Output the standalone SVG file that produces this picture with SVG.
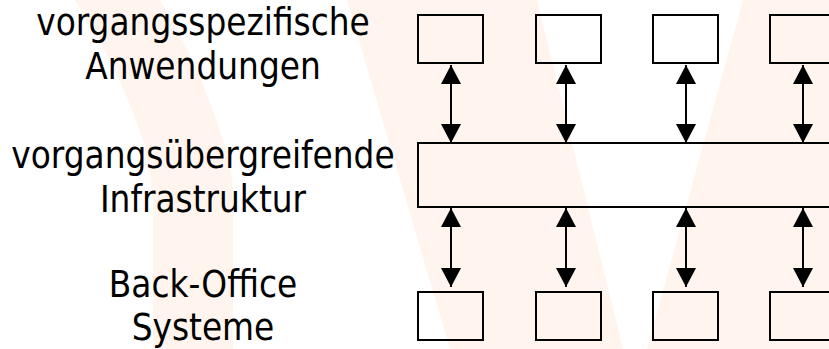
<svg xmlns="http://www.w3.org/2000/svg" width="829" height="349" viewBox="0 0 829 349">
  <defs>
    <style>
      .label { font-family: "DejaVu Sans Condensed", "DejaVu Sans", "Liberation Sans", sans-serif; font-stretch: condensed; font-size: 36.5px; fill: #000; text-anchor: middle; }
      .box { fill: none; stroke: #000; stroke-width: 2; }
      .link { stroke: #000; stroke-width: 2; fill: none; marker-start: url(#head); marker-end: url(#head); }
      .mark { fill: #FFF5EE; }
    </style>
    <marker id="head" viewBox="0 0 19 20" refX="19" refY="10" markerWidth="19" markerHeight="20" markerUnits="userSpaceOnUse" orient="auto-start-reverse">
      <path d="M0,0 L19,10 L0,20 Z" fill="#000"/>
    </marker>
  </defs>

  <rect width="829" height="349" fill="#fff"/>

  <!-- faint background watermark strokes -->
  <g id="watermark">
    <path class="mark" d="M75,0 L160,0 C185,40 205,85 223,140 C230,160 233,175 233,200 L233,349 L153,349 L153,200 C150,170 147,155 143,140 C125,85 100,40 75,0 Z"/>
    <path class="mark" d="M347,0 L537,0 L623,349 L450,349 Z"/>
    <path class="mark" d="M743,0 L829,0 L829,349 L647,349 Z"/>
  </g>

  <!-- row labels -->
  <g id="label-apps">
    <text class="label" x="203" y="35">vorgangsspezifische</text>
    <text class="label" x="203" y="79">Anwendungen</text>
  </g>
  <g id="label-infra">
    <text class="label" x="203" y="168">vorgangsübergreifende</text>
    <text class="label" x="203" y="212">Infrastruktur</text>
  </g>
  <g id="label-backoffice">
    <text class="label" x="203" y="297">Back-Office</text>
    <text class="label" x="203" y="340">Systeme</text>
  </g>

  <!-- application boxes -->
  <g id="app-1"><rect class="box" x="418" y="15" width="65" height="48"/></g>
  <g id="app-2"><rect class="box" x="536" y="15" width="65" height="48"/></g>
  <g id="app-3"><rect class="box" x="653" y="15" width="65" height="48"/></g>
  <g id="app-4"><rect class="box" x="770" y="15" width="65" height="48"/></g>

  <!-- infrastructure bar -->
  <g id="infrastructure"><rect class="box" x="418" y="143" width="420" height="64"/></g>

  <!-- back-office boxes -->
  <g id="backoffice-1"><rect class="box" x="418" y="292" width="65" height="48"/></g>
  <g id="backoffice-2"><rect class="box" x="536" y="292" width="65" height="48"/></g>
  <g id="backoffice-3"><rect class="box" x="653" y="292" width="65" height="48"/></g>
  <g id="backoffice-4"><rect class="box" x="770" y="292" width="65" height="48"/></g>

  <!-- bidirectional connectors -->
  <g id="connectors">
    <line class="link" x1="451" y1="65" x2="451" y2="143"/>
    <line class="link" x1="566" y1="65" x2="566" y2="143"/>
    <line class="link" x1="686" y1="65" x2="686" y2="143"/>
    <line class="link" x1="803" y1="65" x2="803" y2="143"/>
    <line class="link" x1="451" y1="208" x2="451" y2="287"/>
    <line class="link" x1="566" y1="208" x2="566" y2="287"/>
    <line class="link" x1="686" y1="208" x2="686" y2="287"/>
    <line class="link" x1="803" y1="208" x2="803" y2="287"/>
  </g>
</svg>
